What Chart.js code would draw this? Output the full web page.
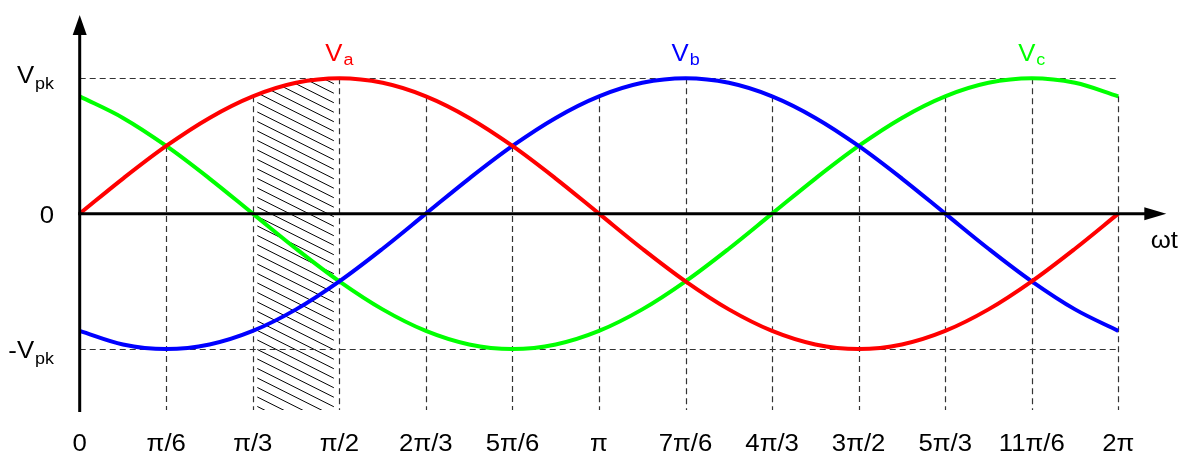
<!DOCTYPE html>
<html><head><meta charset="utf-8">
<script src="https://cdn.jsdelivr.net/npm/chart.js@4/dist/chart.umd.min.js"></script>
<style>html,body{margin:0;padding:0;background:#fff;overflow:hidden}#wrap{width:1179px;height:454px}</style>
</head><body><div id="wrap"><canvas id="c" width="1179" height="454"></canvas></div>
<script>
// ωt positions in units of π/6 (0 .. 12 = 2π), sampled every π/12
const phaseX = [0,0.5,1,1.5,2,2.5,3,3.5,4,4.5,5,5.5,6,6.5,7,7.5,8,8.5,9,9.5,10,10.5,11,11.5,12];
// values, in units of Vpk
const vaValues = [0,0.259,0.5,0.707,0.866,0.966,1,0.966,0.866,0.707,0.5,0.259,0,-0.259,-0.5,-0.707,-0.866,-0.966,-1,-0.966,-0.866,-0.707,-0.5,-0.259,0];
const vbValues = [-0.866,-0.966,-1,-0.966,-0.866,-0.707,-0.5,-0.259,0,0.259,0.5,0.707,0.866,0.966,1,0.966,0.866,0.707,0.5,0.259,0,-0.259,-0.5,-0.707,-0.866];
const vcValues = [0.866,0.707,0.5,0.259,0,-0.259,-0.5,-0.707,-0.866,-0.966,-1,-0.966,-0.866,-0.707,-0.5,-0.259,0,0.259,0.5,0.707,0.866,0.966,1,0.966,0.866];
const seriesSubs = ['a','b','c'];
const tickValues = [0,1,2,3,4,5,6,7,8,9,10,11,12];
const tickLabels = ['0','π/6','π/3','π/2','2π/3','5π/6','π','7π/6','4π/3','3π/2','5π/3','11π/6','2π'];
const yTickValues = [1,0,-1];
const yTickMain = ['V','0','-V'];
const yTickSub = ['pk','','pk'];
const hatchRange = [2,3]; // π/3 .. π/2
const axisLabel = 'ωt';

const COLORS = ['#ff0000','#0000ff','#00ff00'];
const FONT = '"Liberation Sans", Arial, sans-serif';
const SX = 1.12; // horizontal text stretch
const MAIN = '23px ';
const SUB = '16px ';

function textW(ctx, t){ return ctx.measureText(t).width * SX; }
function drawText(ctx, t, x, y){ ctx.save(); ctx.translate(x,y); ctx.scale(SX,1); ctx.fillText(t,0,0); ctx.restore(); }
function drawSubLabel(ctx, main, sub, x, y, align, color, subDy){
  ctx.fillStyle = color; ctx.textAlign='left'; ctx.textBaseline='alphabetic';
  ctx.font = MAIN + FONT; const w1 = textW(ctx, main);
  ctx.font = SUB + FONT; const w2 = sub ? textW(ctx, sub) : 0;
  const w = w1 + w2 + (sub ? 1 : 0);
  let sx = x; if (align==='center') sx = x - w/2; else if (align==='right') sx = x - w;
  ctx.font = MAIN + FONT; drawText(ctx, main, sx, y);
  if (sub){ ctx.font = SUB + FONT; drawText(ctx, sub, sx + w1 + 1, y + subDy); }
}

const seriesValues = [vaValues, vbValues, vcValues];

const decor = {
  id:'decor',
  beforeDatasetsDraw(chart){
    const ctx = chart.ctx, xs = chart.scales.x, ys = chart.scales.y, a = chart.chartArea;
    // hatch region under Va between hatchRange
    const meta = chart.getDatasetMeta(0);
    meta.dataset.updateControlPoints(a, 'x');
    const pts = meta.data;
    const i0 = phaseX.indexOf(hatchRange[0]), i1 = phaseX.indexOf(hatchRange[1]);
    const x0 = xs.getPixelForValue(hatchRange[0]), x1 = xs.getPixelForValue(hatchRange[1]);
    ctx.save();
    ctx.beginPath(); ctx.rect(x0+4.5, 0, (x1-5.5)-(x0+4.5), a.bottom); ctx.clip();
    ctx.beginPath(); ctx.moveTo(pts[i0].x, pts[i0].y);
    for (let k=i0+1;k<=i1;k++) ctx.bezierCurveTo(pts[k-1].cp2x, pts[k-1].cp2y, pts[k].cp1x, pts[k].cp1y, pts[k].x, pts[k].y);
    ctx.lineTo(pts[i1].x, a.bottom); ctx.lineTo(pts[i0].x, a.bottom); ctx.closePath(); ctx.clip();
    ctx.strokeStyle='#000'; ctx.lineWidth=1; ctx.beginPath();
    const slope = 0.5;
    for (let y = a.top - (x1-x0)*slope; y < a.bottom + 10; y += 9.5){ ctx.moveTo(x0, y); ctx.lineTo(x1, y + slope*(x1-x0)); }
    ctx.stroke();
    ctx.restore();
    // dashed grid
    ctx.save(); ctx.setLineDash([6,4]); ctx.lineWidth=1.2; ctx.strokeStyle='#333';
    for (const v of tickValues){
      if (v===0) continue;
      const idx = phaseX.indexOf(v);
      const top = Math.max(vaValues[idx], vbValues[idx], vcValues[idx]);
      const x = Math.round(xs.getPixelForValue(v)) + 0.5;
      ctx.beginPath(); ctx.moveTo(x, ys.getPixelForValue(top)); ctx.lineTo(x, a.bottom); ctx.stroke();
    }
    for (const v of [1,-1]){
      const y = Math.round(ys.getPixelForValue(v)) + 0.5;
      ctx.beginPath(); ctx.moveTo(a.left, y); ctx.lineTo(xs.getPixelForValue(tickValues[tickValues.length-1]), y); ctx.stroke();
    }
    ctx.restore();
  },
  afterDatasetsDraw(chart){
    const ctx = chart.ctx, xs = chart.scales.x, ys = chart.scales.y, a = chart.chartArea;
    const y0 = ys.getPixelForValue(0);
    ctx.save();
    ctx.strokeStyle='#000'; ctx.fillStyle='#000'; ctx.lineWidth=3; ctx.setLineDash([]);
    // x axis
    const tipX = a.right + 48;
    ctx.beginPath(); ctx.moveTo(a.left-1.5, y0); ctx.lineTo(tipX-18, y0); ctx.stroke();
    ctx.beginPath(); ctx.moveTo(tipX, y0); ctx.lineTo(tipX-22, y0-6.5); ctx.lineTo(tipX-22, y0+6.5); ctx.closePath(); ctx.fill();
    // y axis
    const tipY = 15;
    ctx.beginPath(); ctx.moveTo(a.left, a.bottom+2); ctx.lineTo(a.left, tipY+16); ctx.stroke();
    ctx.beginPath(); ctx.moveTo(a.left, tipY); ctx.lineTo(a.left-7, tipY+20); ctx.lineTo(a.left+7, tipY+20); ctx.closePath(); ctx.fill();
    // x tick labels
    ctx.font = MAIN + FONT; ctx.textBaseline='alphabetic'; ctx.textAlign='left';
    tickValues.forEach((v,i)=>{
      const x = xs.getPixelForValue(v); const w = textW(ctx, tickLabels[i]);
      drawText(ctx, tickLabels[i], x - w/2, a.bottom + 41);
    });
    // axis label
    const wl = textW(ctx, axisLabel);
    drawText(ctx, axisLabel, tipX - 2 - wl/2, y0 + 34);
    // y labels
    const yOff = [5, 9.5, 8.5];
    yTickValues.forEach((v,i)=>{
      drawSubLabel(ctx, yTickMain[i], yTickSub[i], 54, ys.getPixelForValue(v)+yOff[i], 'right', '#000', 6);
    });
    // series labels at peaks
    seriesValues.forEach((vals,s)=>{
      let mi = 0; vals.forEach((v,i)=>{ if (v > vals[mi]) mi = i; });
      drawSubLabel(ctx, 'V', seriesSubs[s], xs.getPixelForValue(phaseX[mi]), ys.getPixelForValue(vals[mi]) - 17, 'center', COLORS[s], 4);
    });
    ctx.restore();
  }
};

new Chart(document.getElementById('c'), {
  type:'line',
  data:{ datasets: seriesValues.map((vals,s)=>({
    label:'V' + seriesSubs[s],
    data: phaseX.map((x,i)=>({x, y: vals[i]})),
    borderColor: COLORS[s], borderWidth: 4, pointRadius: 0, tension: 0.35,
    fill:false, clip:false, borderCapStyle:'butt'
  }))},
  options:{
    responsive:false, animation:false, devicePixelRatio:1, events:[],
    layout:{ padding:{ left:79.7, right:60.7, top:10.5, bottom:44 } },
    scales:{
      x:{ type:'linear', min:0, max:12, display:false },
      y:{ type:'linear', min:-1.45, max:1.5, display:false }
    },
    plugins:{ legend:{display:false}, tooltip:{enabled:false} }
  },
  plugins:[decor]
});
</script></body></html>
